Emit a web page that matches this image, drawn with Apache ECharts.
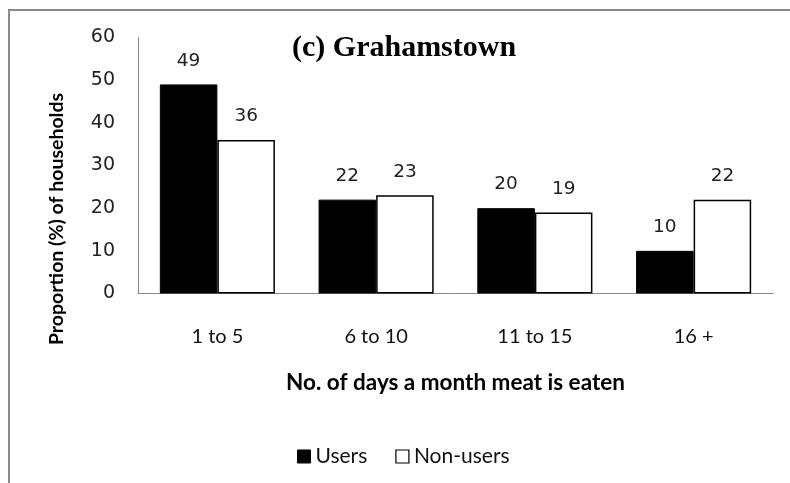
<!DOCTYPE html>
<html><head><meta charset="utf-8">
<script src="https://cdn.jsdelivr.net/npm/echarts@6/dist/echarts.min.js"></script>
<style>html,body{margin:0;padding:0;background:#fff}#c{width:790px;height:483px}</style>
</head><body><div id="c"></div>
<script>
const categories = ['1 to 5', '6 to 10', '11 to 15', '16 +'];
const users = [49, 22, 20, 10];
const nonUsers = [36, 23, 19, 22];
const yTicks = [0, 10, 20, 30, 40, 50, 60];

const sans = 'Lato, "Liberation Sans", sans-serif';
const chart = echarts.init(document.getElementById('c'));
chart.setOption({
  animation: false,
  backgroundColor: '#fff',
  grid: { left: 138, right: 17, top: 37.5, bottom: 189.5 },
  graphic: [
    { type: 'rect', shape: { x: 9, y: 10, width: 900, height: 600 }, style: { fill: 'none', stroke: '#8a8a8a', lineWidth: 2 } },
    { type: 'text', x: 292, y: 48, style: { text: '(c) Grahamstown', font: 'bold 30px "Liberation Serif", "DejaVu Serif", serif', fill: '#000', verticalAlign: 'middle' } },
    { type: 'text', x: 57, y: 219, rotation: Math.PI / 2, style: { text: 'Proportion (%) of households', font: 'bold 19.5px Lato, "Liberation Sans", sans-serif', fill: '#000', align: 'center', verticalAlign: 'middle' } }
  ],
  legend: {
    data: [
      { name: 'Users', itemStyle: { color: '#000', borderColor: '#000', borderWidth: 1 } },
      { name: 'Non-users', itemStyle: { color: '#fff', borderColor: '#000', borderWidth: 1.2 } }
    ],
    top: 441, left: 292, icon: 'rect', itemWidth: 13, itemHeight: 13, itemGap: 28,
    textStyle: { fontFamily: sans, fontSize: 21, color: '#111' }
  },
  xAxis: {
    type: 'category', data: categories,
    axisLine: { lineStyle: { color: '#888', width: 1 } },
    axisTick: { show: false },
    axisLabel: { margin: 33, fontSize: 20, color: '#111', fontFamily: sans },
    name: 'No. of days a month meat is eaten', nameLocation: 'middle', nameGap: 78,
    nameTextStyle: { fontSize: 22.5, color: '#000', fontFamily: sans, fontWeight: 'bold' }
  },
  yAxis: {
    type: 'value', min: yTicks[0], max: yTicks[yTicks.length - 1], interval: 10,
    axisLine: { show: true, lineStyle: { color: '#888', width: 1 } },
    axisTick: { show: false },
    splitLine: { show: false },
    axisLabel: { margin: 23, fontSize: 19, color: '#222', fontFamily: '"DejaVu Sans", sans-serif' }
  },
  series: [
    { name: 'Users', type: 'bar', data: users, barGap: '0%', barCategoryGap: '27.5%',
      itemStyle: { color: '#000', borderColor: '#000', borderWidth: 1 },
      label: { show: true, position: 'top', distance: 14, fontSize: 18.5, color: '#222', fontFamily: '"DejaVu Sans", sans-serif' } },
    { name: 'Non-users', type: 'bar', data: nonUsers,
      itemStyle: { color: '#fff', borderColor: '#000', borderWidth: 1.5 },
      label: { show: true, position: 'top', distance: 14, fontSize: 18.5, color: '#222', fontFamily: '"DejaVu Sans", sans-serif' } }
  ]
});
</script></body></html>
